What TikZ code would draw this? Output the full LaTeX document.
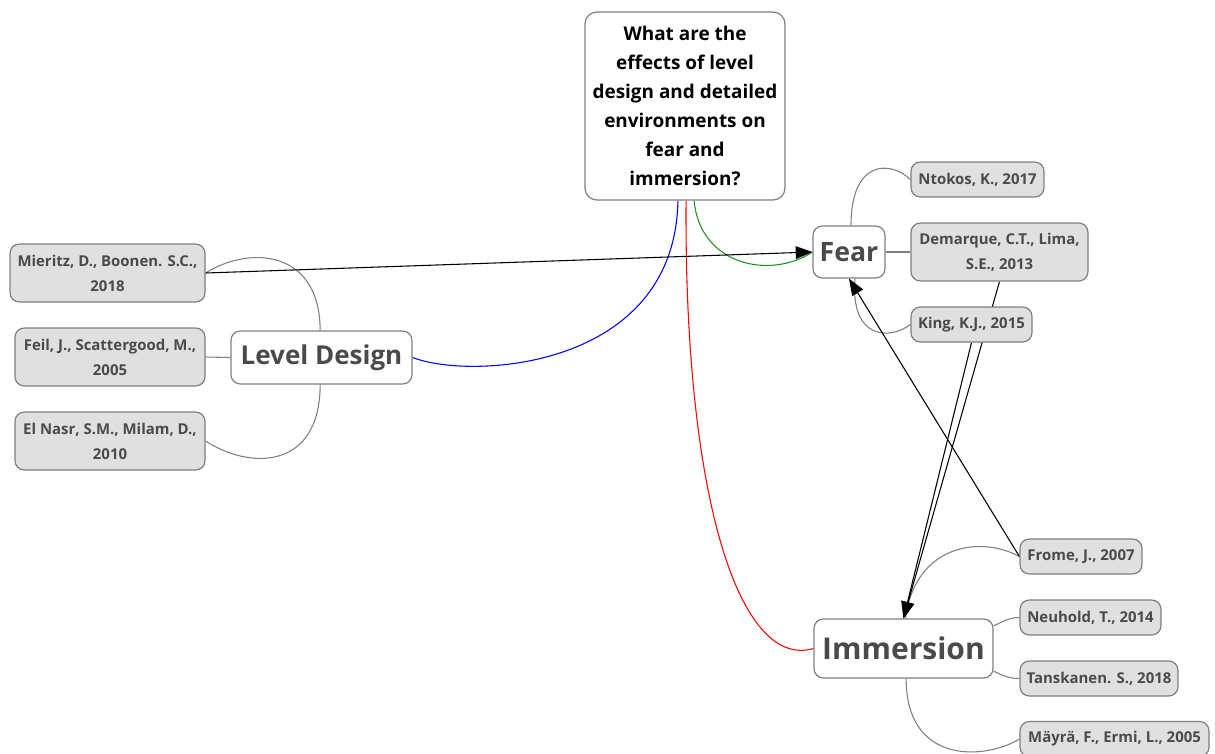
\documentclass[tikz,border=0pt]{standalone}
\usepackage{fontspec}
\setmainfont{Open Sans}
\usetikzlibrary{arrows.meta,backgrounds}
\definecolor{txt}{HTML}{4A4A4A}
\definecolor{bord}{HTML}{7F7F7F}
\definecolor{refbg}{HTML}{E0E0E0}
\definecolor{grn}{HTML}{1F8F1F}
\begin{document}
\begin{tikzpicture}[x=0.75pt,y=-0.75pt,
  sz/.style 2 args={minimum width=#1*0.75pt, minimum height=#2*0.75pt},
  basebox/.style={draw=bord, line width=0.9pt, rounded corners=7pt, inner sep=0pt, align=center},
  qbox/.style={basebox, fill=white, rounded corners=9pt, text=black,
     font=\bfseries\fontsize{14.2}{21.75}\selectfont},
  topic/.style={basebox, fill=white, text=txt},
  refbox/.style={basebox, fill=refbg, text=txt, font=\bfseries\fontsize{11.2}{18.75}\selectfont},
  branch/.style={draw=bord, line width=0.8pt},
  link/.style={draw=black, line width=0.8pt, -{Triangle[length=12.5pt,width=9.5pt]}},
]
\useasboundingbox (0,0) rectangle (1215,754);

% central question
\node[qbox, sz={200}{188}] (q) at (685,106) {What are the\\effects of level\\design and detailed\\environments on\\fear and\\immersion?};

% topics
\node[topic, sz={72}{52}, font=\bfseries\fontsize{20}{24}\selectfont] (fear) at (849,252) {Fear};
\node[topic, sz={181}{53}, font=\bfseries\fontsize{19.5}{24}\selectfont] (ld) at (321.5,357.5) {Level Design};
\node[topic, sz={179}{59}, font=\bfseries\fontsize{22.5}{27}\selectfont] (imm) at (903.5,648.5) {Immersion};

% references
\node[refbox, sz={133}{35}] (ntokos) at (977.5,179.5) {Ntokos, K., 2017};
\node[refbox, sz={177}{58}] (demarque) at (999.5,252) {Demarque, C.T., Lima,\\S.E., 2013};
\node[refbox, sz={121}{35}] (king) at (971.5,324.5) {King, K.J., 2015};
\node[refbox, sz={195}{58}] (mieritz) at (107.5,273) {Mieritz, D., Boonen. S.C.,\\2018};
\node[refbox, sz={190}{58}] (feil) at (110,357) {Feil, J., Scattergood, M.,\\2005};
\node[refbox, sz={190}{58}] (elnasr) at (110,441) {El Nasr, S.M., Milam, D.,\\2010};
\node[refbox, sz={122}{35}] (frome) at (1081,556.5) {Frome, J., 2007};
\node[refbox, sz={141}{35}] (neuhold) at (1090.5,617.5) {Neuhold, T., 2014};
\node[refbox, sz={158}{35}] (tansk) at (1099,678.5) {Tanskanen. S., 2018};
\node[refbox, sz={189}{35}] (mayra) at (1114.5,739) {Mäyrä, F., Ermi, L., 2005};

\begin{pgfonlayer}{background}
% coloured main branches
\draw[blue, line width=0.8pt] (ld.east) .. controls (470,380) and (675,370) .. ([xshift=-5.3pt]q.south);
\draw[red, line width=0.8pt] ([xshift=0.8pt]q.south) .. controls (684,500) and (740,670) .. (imm.west);
\draw[grn, line width=0.8pt] ([xshift=6.8pt]q.south) .. controls (700,265) and (770,280) .. (fear.west);

% grey sub-branches
\draw[branch] ([xshift=1.5pt]fear.north) .. controls (851,160) and (890,160) .. (ntokos.west);
\draw[branch] (fear.east) -- (demarque.west);
\draw[branch] ([xshift=4.5pt]fear.south) .. controls (850,340) and (890,340) .. (king.west);
\draw[branch] ([xshift=-1pt]ld.north) .. controls (320,250) and (250,245) .. (mieritz.east);
\draw[branch] (ld.west) -- (feil.east);
\draw[branch] ([xshift=-1pt]ld.south) .. controls (320,470) and (250,470) .. (elnasr.east);
\draw[branch] ([xshift=1.5pt]imm.north) .. controls (915,545) and (980,535) .. (frome.west);
\draw[branch] ([yshift=17pt]imm.east) to[out=25,in=180] (neuhold.west);
\draw[branch] ([yshift=-17pt]imm.east) to[out=-25,in=180] (tansk.west);
\draw[branch] ([xshift=2pt]imm.south) .. controls (906,765) and (985,760) .. (mayra.west);

% cross links
\draw[link] (mieritz.east) -- (fear.west);
\draw[link] (demarque.south) -- (imm.north);
\draw[link] (king.south) -- (imm.north);
\draw[link] (frome.west) -- (fear.south);
\end{pgfonlayer}
\end{tikzpicture}
\end{document}
